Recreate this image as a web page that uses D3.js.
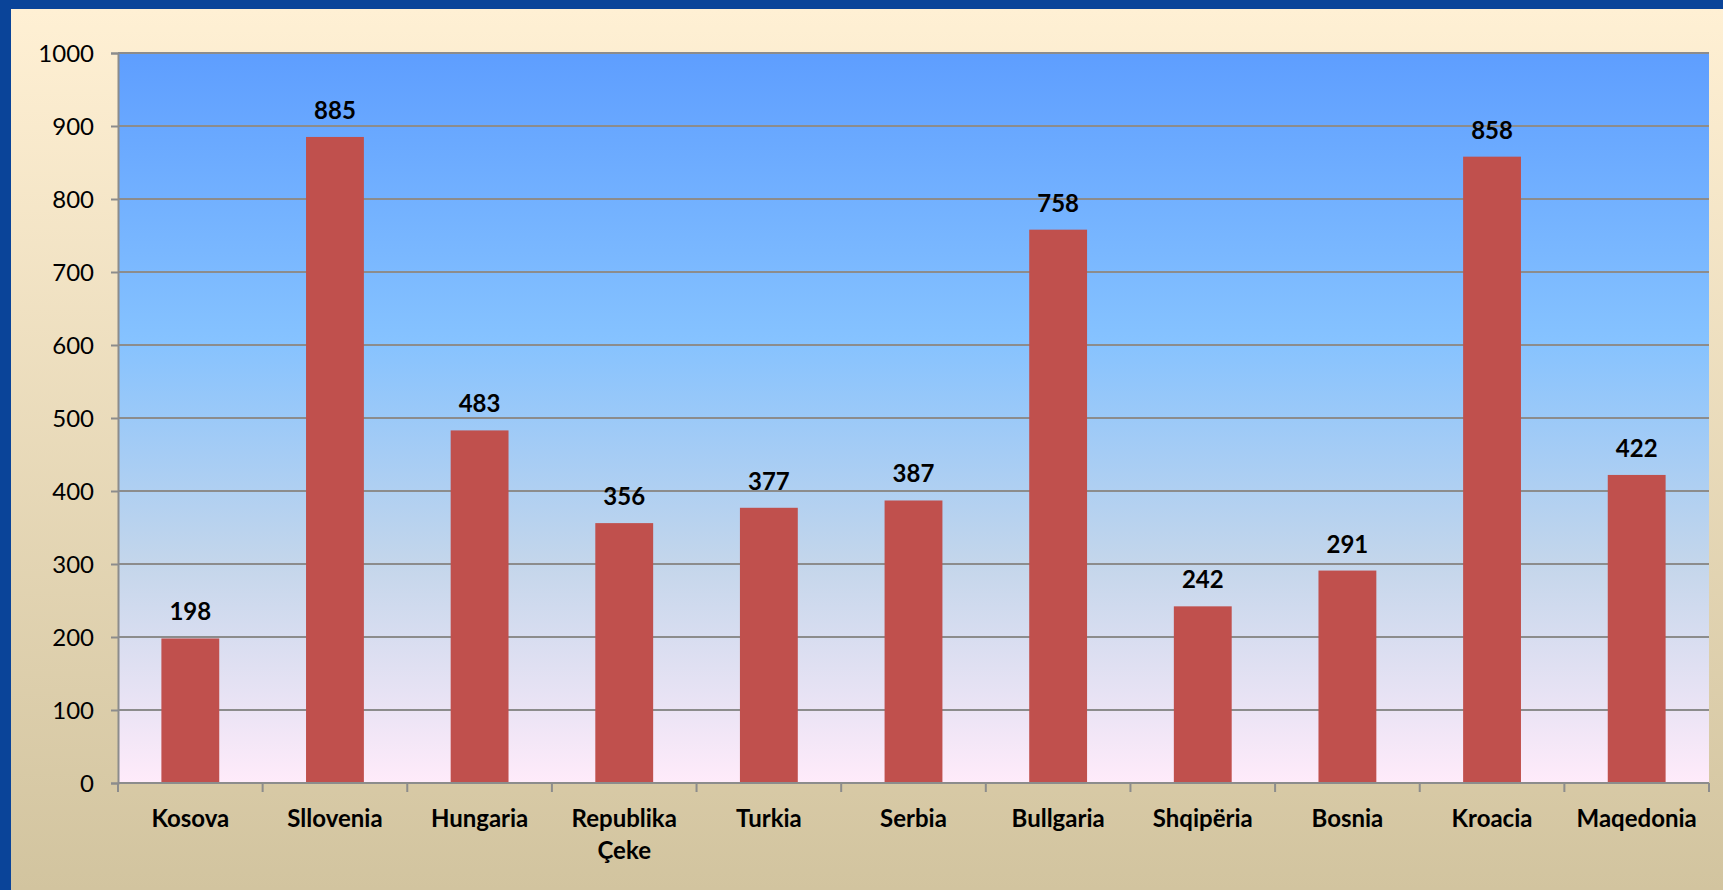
<!DOCTYPE html>
<html>
<head>
<meta charset="utf-8">
<script src="https://cdnjs.cloudflare.com/ajax/libs/d3/7.8.5/d3.min.js"></script>
<style>
    html, body { margin: 0; padding: 0; background: #0a4499; }
    svg { display: block; }
    text { font-family: Lato, "Open Sans", sans-serif; fill: #000; }
</style>
</head>
<body>
<svg id="chart" width="1723" height="890"></svg>
<script>
'use strict';

var categories = ['Kosova', 'Sllovenia', 'Hungaria', 'Republika\nÇeke', 'Turkia', 'Serbia',
    'Bullgaria', 'Shqipëria', 'Bosnia', 'Kroacia', 'Maqedonia'];
var values = [198, 885, 483, 356, 377, 387, 758, 242, 291, 858, 422];
var yTicks = [0, 100, 200, 300, 400, 500, 600, 700, 800, 900, 1000];

var W = 1723, H = 890;
var margin = { top: 53, right: 14, bottom: 107, left: 118 };

var svg = d3.select('#chart');
var defs = svg.append('defs');

// cream page background
var bg = defs.append('linearGradient').attr('id', 'bg').attr('x1', 0).attr('y1', 0).attr('x2', 0).attr('y2', 1);
bg.append('stop').attr('offset', '0%').attr('stop-color', '#fff0d4');
bg.append('stop').attr('offset', '100%').attr('stop-color', '#d2c49f');

// plot area (sky gradient)
var sky = defs.append('linearGradient').attr('id', 'sky').attr('x1', 0).attr('y1', 0).attr('x2', 0).attr('y2', 1);
[['0%', '#5e9eff'], ['39%', '#85c2ff'], ['70%', '#c4d6eb'], ['100%', '#ffebfa']].forEach(function (s) {
    sky.append('stop').attr('offset', s[0]).attr('stop-color', s[1]);
});

svg.append('rect').attr('x', 11).attr('y', 9).attr('width', W - 11).attr('height', H - 9).attr('fill', 'url(#bg)');

var x = d3.scaleBand().domain(categories).range([margin.left, W - margin.right]).paddingInner(0.6).paddingOuter(0.3);
var y = d3.scaleLinear().domain([0, 1000]).range([H - margin.bottom, margin.top]);

svg.append('rect')
    .attr('x', margin.left).attr('y', y(1000))
    .attr('width', W - margin.right - margin.left).attr('height', y(0) - y(1000))
    .attr('fill', 'url(#sky)');

// gridlines + left ticks
var yAxis = d3.axisLeft(y).tickValues(yTicks).tickFormat(d3.format('d')).tickSize(7).tickPadding(17);
var yg = svg.append('g').attr('transform', 'translate(' + margin.left + ',0)').call(yAxis);
yg.attr('font-family', null);
yg.select('.domain').attr('stroke', '#8c8c8c').attr('stroke-width', 2);
yg.selectAll('.tick line').attr('stroke', '#8c8c8c').attr('stroke-width', 2);
yg.selectAll('.tick text').attr('font-size', 24).attr('fill', '#000').attr('dy', '0.35em');

svg.append('g').selectAll('line').data(yTicks.slice(1)).enter().append('line')
    .attr('x1', margin.left).attr('x2', W - margin.right)
    .attr('y1', function (d) { return y(d); }).attr('y2', function (d) { return y(d); })
    .attr('stroke', '#8c8c8c').attr('stroke-width', 2);

// bars
svg.append('g').selectAll('rect').data(values).enter().append('rect')
    .attr('x', function (d, i) { return x(categories[i]); })
    .attr('y', function (d) { return y(d); })
    .attr('width', x.bandwidth())
    .attr('height', function (d) { return y(0) - y(d); })
    .attr('fill', '#c0504d');

// value labels
svg.append('g').selectAll('text').data(values).enter().append('text')
    .attr('x', function (d, i) { return x(categories[i]) + x.bandwidth() / 2; })
    .attr('y', function (d) { return y(d) - 18; })
    .attr('text-anchor', 'middle')
    .attr('font-size', 24).attr('font-weight', 'bold')
    .text(function (d) { return d; });

// x axis: line with ticks at band boundaries
var step = x.step();
var xg = svg.append('g');
xg.append('line').attr('x1', margin.left).attr('x2', W - margin.right)
    .attr('y1', y(0)).attr('y2', y(0)).attr('stroke', '#8c8c8c').attr('stroke-width', 2);
xg.selectAll('.xt').data(d3.range(categories.length + 1)).enter().append('line')
    .attr('x1', function (i) { return margin.left + i * step; })
    .attr('x2', function (i) { return margin.left + i * step; })
    .attr('y1', y(0)).attr('y2', y(0) + 9)
    .attr('stroke', '#8c8c8c').attr('stroke-width', 2);

// category labels (may wrap on two lines)
xg.selectAll('text').data(categories).enter().append('text')
    .attr('text-anchor', 'middle')
    .attr('font-size', 24).attr('font-weight', 'bold')
    .attr('y', y(0) + 44)
    .each(function (d) {
        var cx = x(d) + x.bandwidth() / 2;
        d.split('\n').forEach(function (line, k) {
            d3.select(this).append('tspan').attr('x', cx).attr('dy', k ? 32 : 0).text(line);
        }, this);
    });
</script>
</body>
</html>
